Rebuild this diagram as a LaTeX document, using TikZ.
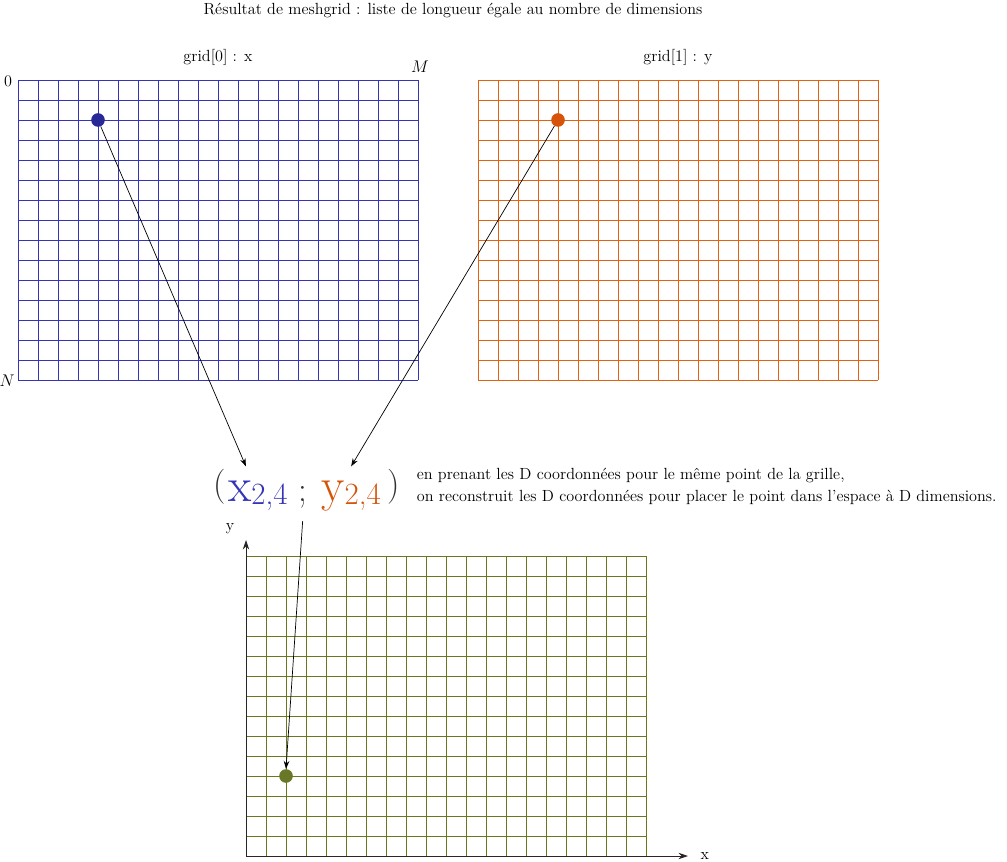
\documentclass[tikz,border=0pt]{standalone}
\usetikzlibrary{positioning,arrows.meta}
\definecolor{gridblue}{RGB}{52,52,184}
\definecolor{dotblue}{RGB}{40,40,150}
\definecolor{gridorange}{RGB}{226,98,18}
\definecolor{dotorange}{RGB}{214,84,10}
\definecolor{gridolive}{RGB}{104,120,30}
\definecolor{dotolive}{RGB}{104,120,38}
\definecolor{parengray}{RGB}{50,50,50}
\newcommand{\subidx}[1]{\raisebox{-1.5pt}{\fontsize{22}{22}\selectfont #1}}
\begin{document}
\begin{tikzpicture}[x=1cm,y=1cm,
  every node/.style={font=\fontsize{11.5}{15.5}\selectfont},
  pt/.style={circle, inner sep=0pt, minimum size=0.34cm},
  tup/.style={font=\fontsize{24.9}{25}\selectfont, inner sep=0pt, anchor=base west},
  letter/.style={font=\fontsize{34}{34}\selectfont, inner sep=0pt, anchor=base west},
  noteline/.style={anchor=base west, inner sep=1pt},
  link/.style={-{Stealth[length=2mm,width=1.4mm]}, line width=0.5pt}]
\useasboundingbox (0,0) rectangle (25.175,21.525);
% title
\node (title) at (11.325,21.27) {Résultat de meshgrid : liste de longueur égale au nombre de dimensions};
% grid[0] and grid[1]
\begin{scope}[shift={(0.45,12.025)}]
\draw[gridblue, line width=0.6pt, step=0.5] (0,0) grid (10,7.5);
\end{scope}
\begin{scope}[shift={(11.95,12.025)}]
\draw[gridorange, line width=0.6pt, step=0.5] (0,0) grid (10,7.5);
\end{scope}
\node (g0) at (5.45,20.08) {grid[0] : x};
\node (g1) at (16.95,20.08) {grid[1] : y};
\node (zero) at (0.2,19.5) {0};
\node (M) at (10.5,19.85) {$M$};
\node (N) at (0.18,12.0) {$N$};
\node[pt, fill=dotblue] (bdot) at (2.45,18.525) {};
\node[pt, fill=dotorange] (odot) at (13.95,18.525) {};
% the point
\node[tup, parengray] (lp) at (5.33,9.15) {(};
\node[letter, gridblue] (xc) at (5.7,8.975) {x\subidx{2,4}};
\node[tup, parengray] (semi) at (7.45,8.975) {;};
\node[letter, dotorange] (yc) at (8.03,8.975) {y\subidx{2,4}};
\node[tup, parengray] (rp) at (9.68,9.15) {)};
\node[noteline] (note1) at (10.38,9.54) {en prenant les D coordonnées pour le même point de la grille,};
\node[noteline] (note2) at (10.38,9.0) {on reconstruit les D coordonnées pour placer le point dans l'espace à D dimensions.};
% grid in space
\begin{scope}[shift={(6.15,0.125)}]
\draw[gridolive, line width=0.6pt, step=0.5] (0,0) grid (10,7.5);
\end{scope}
\coordinate (o) at (6.15,0.125);
\coordinate (xend) at (17.2,0.125);
\coordinate (yend) at (6.15,8.025);
\draw[-{Stealth[length=2.4mm,width=1.6mm]}, line width=0.6pt, black!85] (o) -- (xend);
\draw[-{Stealth[length=2.4mm,width=1.6mm]}, line width=0.6pt, black!85] (o) -- (yend);
\node (xlab) at (17.62,0.12) {x};
\node (ylab) at (5.75,8.32) {y};
\node[pt, fill=dotolive] (gdot) at (7.15,2.125) {};
% arrows
\draw[link] (bdot) -- ([xshift=-0.3cm, yshift=0.37cm]xc.north);
\draw[link] (odot) -- ([yshift=0.37cm]yc.north);
\draw[link] ([yshift=-0.3cm]semi.south) -- (gdot.north);
\end{tikzpicture}
\end{document}
